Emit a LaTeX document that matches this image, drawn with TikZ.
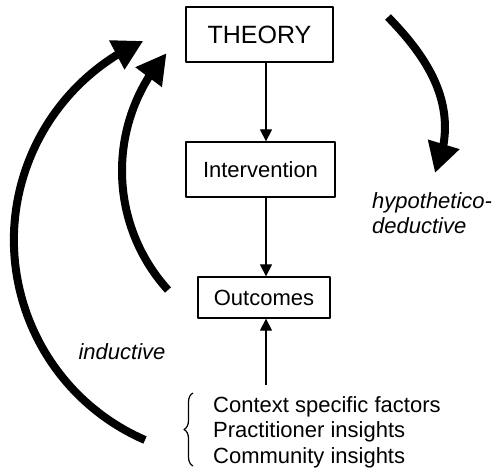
\documentclass[tikz,border=0pt]{standalone}
\usepackage{fontspec}
\setmainfont{Liberation Sans}
\usetikzlibrary{arrows.meta,bending,decorations.pathreplacing}
\begin{document}
\begin{tikzpicture}[x=1pt,y=1pt,line join=round,
    stage/.style={draw,line width=1.3pt,minimum height=55pt,font=\fontsize{22}{26}\selectfont},
    flow/.style={line width=1.2pt,-{Triangle[length=12pt,width=12pt]}},
    loop/.style={line width=8pt,-{Triangle[length=30pt,width=31pt]}},
    lbl/.style={inner sep=0pt,align=left,font=\fontsize{22}{25.5}\selectfont}]
  \useasboundingbox (0,0) rectangle (493,-472);
  \node[stage,minimum width=147pt,font=\fontsize{25}{30}\selectfont] (theory) at (259.5,-34.5) {THEORY};
  \node[stage,minimum width=149pt] (interv) at (260.5,-169.5) {Intervention};
  \node[stage,minimum width=132pt,minimum height=41pt] (outc) at (264,-297.5) {Outcomes};
  \coordinate (axis) at (266,0);
  \foreach \a/\b in {theory/interv, interv/outc}
    \draw[flow] (\a.south -| axis) -- (\b.north -| axis);
  % factors feeding the outcomes
  \node[lbl,anchor=west] (factors) at (213,-432) {Context specific factors\\Practitioner insights\\Community insights};
  \coordinate (src) at (266,-385);
  \draw[flow] (src) -- (outc.south -| axis);
  \draw[line width=1.2pt,decorate,decoration={brace,amplitude=9pt}] (193,-466) -- (193,-393);
  % the two routes
  \coordinate (indout) at (145,-440);
  \coordinate (indin) at (168,-290);
  \coordinate (hyp) at (388,-17);
  \coordinate (hyptip) at (435,-173);
  \draw[loop] (indout) arc[start angle=246.5,end angle=114,radius=218];
  \draw[loop] (indin) arc[start angle=222.2,end angle=138.5,radius=177.5];
  \draw[loop] (hyp) .. controls (430,-60) and (462,-110) .. (hyptip);
  \node[lbl,font=\fontsize{22}{25.5}\itshape\selectfont] (ind) at (122,-352) {inductive};
  \node[lbl,anchor=west,font=\fontsize{22}{25.5}\itshape\selectfont] (hypded) at (372,-213) {hypothetico-\\deductive};
\end{tikzpicture}
\end{document}
